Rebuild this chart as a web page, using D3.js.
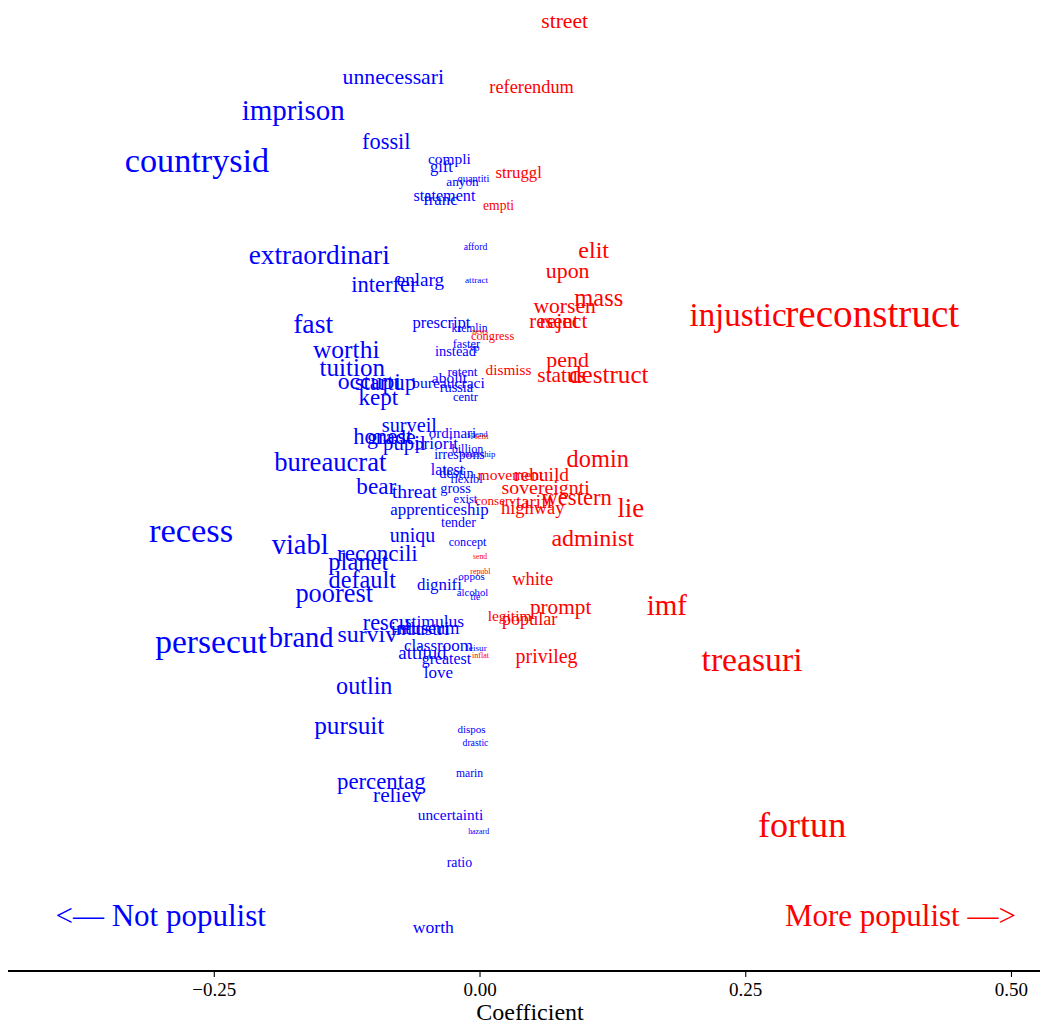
<!DOCTYPE html>
<html>
<head>
<meta charset="utf-8">
<script src="https://cdn.jsdelivr.net/npm/d3@7"></script>
<style>
  html, body { margin: 0; padding: 0; background: #fff; }
  svg { display: block; }
  text { font-family: "Liberation Serif", "Times New Roman", serif; }
</style>
</head>
<body>
<svg id="chart" width="1040" height="1024"></svg>
<script>
// Word stems, their regression coefficient (x) and a vertical spread value (y, 0..1)
const words = [
  "street","unnecessari","referendum","imprison","fossil","countrysid","compli","gift",
  "quantiti","anyon","struggl","statement","franc","empti","afford","extraordinari",
  "elit","upon","enlarg","interfer","attract","mass","worsen","reject",
  "resent","injustic","reconstruct","fast","prescript","kremlin","news","congress",
  "faster","vp","instead","worthi","tuition","pend","dismiss","retent",
  "abolit","status","destruct","occupi","startup","bureaucraci","russia","centr",
  "kept","surveil","ordinari","spend","sent","honest","grade","pupil",
  "priorit","billion","irrespons","leadership","bureaucrat","domin","latest","destin",
  "flexibl","movement","rebuild","sovereignti","western","lie","tariff","highway",
  "conserv","exist","gross","threat","bear","apprenticeship","tender","uniqu",
  "concept","send","administ","recess","viabl","reconcili","planet","default",
  "poorest","dignifi","republ","oppos","white","alcohol","tie","prompt",
  "imf","legitim","popular","rescu","stimulus","surviv","brand","persecut",
  "industri","museum","classroom","attitud","leisur","inflat","greatest","privileg",
  "treasuri","love","outlin","pursuit","dispos","drastic","marin","percentag",
  "reliev","uncertainti","hazard","ratio","worth","fortun"
];

const coefs = [
  0.0801,-0.0811,0.0490,-0.1753,-0.0877,-0.2658,-0.0283,-0.0358,
  -0.0057,-0.0160,0.0368,-0.0330,-0.0368,0.0179,-0.0038,-0.1508,
  0.1074,0.0829,-0.0556,-0.0895,-0.0028,0.1122,0.0801,0.0790,
  0.0700,0.2432,0.3695,-0.1565,-0.0358,-0.0094,0.0005,0.0123,
  -0.0123,-0.0047,-0.0226,-0.1254,-0.1197,0.0829,0.0273,-0.0160,
  -0.0283,0.0773,0.1216,-0.1037,-0.0886,-0.0292,-0.0217,-0.0132,
  -0.0952,-0.0660,-0.0254,-0.0019,0.0019,-0.0910,-0.0830,-0.0707,
  -0.0405,-0.0113,-0.0189,-0.0020,-0.1404,0.1112,-0.0302,-0.0217,
  -0.0123,0.0292,0.0584,0.0622,0.0914,0.1423,0.0518,0.0500,
  0.0151,-0.0132,-0.0226,-0.0613,-0.0971,-0.0377,-0.0198,-0.0631,
  -0.0113,0.0005,0.1065,-0.2714,-0.1687,-0.0961,-0.1140,-0.1103,
  -0.1367,-0.0377,0.0008,-0.0075,0.0500,-0.0066,-0.0038,0.0763,
  0.1762,0.0283,0.0471,-0.0877,-0.0424,-0.1056,-0.1678,-0.2526,
  -0.0560,-0.0480,-0.0386,-0.0537,-0.0028,0.0009,-0.0311,0.0631,
  0.2564,-0.0386,-0.1084,-0.1225,-0.0075,-0.0038,-0.0094,-0.0924,
  -0.0773,-0.0273,-0.0008,-0.0189,-0.0434,0.3035
];

const ypos = [
  0.988,0.929,0.919,0.894,0.861,0.841,0.843,0.835,
  0.823,0.819,0.829,0.804,0.800,0.794,0.751,0.742,
  0.747,0.725,0.716,0.711,0.716,0.697,0.688,0.673,
  0.672,0.678,0.679,0.669,0.671,0.665,0.661,0.657,
  0.648,0.644,0.641,0.642,0.623,0.632,0.621,0.619,
  0.613,0.616,0.616,0.609,0.608,0.607,0.603,0.593,
  0.592,0.563,0.555,0.553,0.551,0.551,0.551,0.544,
  0.544,0.538,0.532,0.532,0.524,0.527,0.516,0.512,
  0.506,0.511,0.511,0.497,0.487,0.475,0.482,0.476,
  0.483,0.485,0.496,0.493,0.498,0.474,0.461,0.447,
  0.440,0.425,0.444,0.452,0.437,0.428,0.419,0.400,
  0.386,0.395,0.409,0.404,0.401,0.387,0.382,0.371,
  0.373,0.362,0.359,0.355,0.356,0.343,0.339,0.334,
  0.349,0.349,0.331,0.323,0.328,0.321,0.317,0.319,
  0.316,0.303,0.288,0.246,0.243,0.229,0.197,0.188,
  0.173,0.152,0.135,0.103,0.034,0.142
];

const xTicks = [-0.25, 0, 0.25, 0.5];
const leftNote = "<\u2014 Not populist";
const rightNote = "More populist \u2014>";
const xTitle = "Coefficient";

const axisY = 971;
const svg = d3.select("#chart");

const x = d3.scaleLinear().domain([-0.4436, 0.5273]).range([8, 1040]);
const y = d3.scaleLinear().domain([0, 1]).range([960, 10]);
const size = d3.scaleSqrt().domain([0, 0.4]).range([6.4, 40.5]);
const colour = c => (c > 0 ? "#ff0000" : "#0000ff");

const data = words.map((w, i) => ({ w, c: coefs[i], y: ypos[i] }));

svg.append("g")
  .selectAll("text")
  .data(data)
  .join("text")
  .attr("x", d => x(d.c))
  .attr("y", d => y(d.y))
  .attr("dy", "0.32em")
  .attr("text-anchor", "middle")
  .attr("font-size", d => size(Math.abs(d.c)))
  .attr("fill", d => colour(d.c))
  .text(d => d.w);

// direction notes
svg.append("text")
  .attr("x", x(-0.30)).attr("y", y(0.047)).attr("dy", "0.34em")
  .attr("text-anchor", "middle").attr("font-size", 31).attr("fill", "#0000ff")
  .text(leftNote);
svg.append("text")
  .attr("x", x(0.396)).attr("y", y(0.047)).attr("dy", "0.34em")
  .attr("text-anchor", "middle").attr("font-size", 31).attr("fill", "#ff0000")
  .text(rightNote);

// bottom axis
const ax = svg.append("g").attr("transform", `translate(0,${axisY})`)
  .call(d3.axisBottom(x).tickValues(xTicks).tickSize(6).tickPadding(6)
    .tickFormat(d => d3.format(".2f")(d).replace("-", "\u2212")));
ax.select(".domain").attr("stroke", "#000").attr("stroke-width", 2.2)
  .attr("d", `M${x.range()[0]},0H${x.range()[1]}`);
ax.selectAll(".tick line").attr("stroke", "#000").attr("stroke-width", 1.1);
ax.selectAll(".tick text").attr("font-family", "Liberation Serif").attr("font-size", 19).attr("fill", "#000");

svg.append("text")
  .attr("x", (x.range()[0] + x.range()[1]) / 2 + 6).attr("y", 1020)
  .attr("text-anchor", "middle").attr("font-size", 24).attr("fill", "#000")
  .text(xTitle);
</script>
</body>
</html>
